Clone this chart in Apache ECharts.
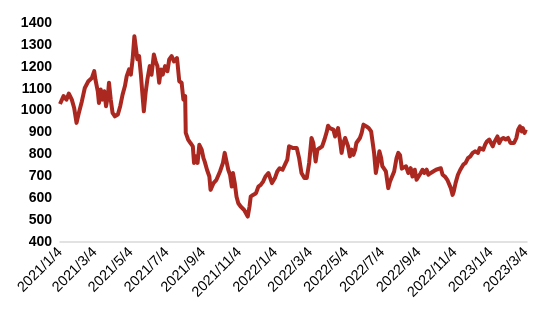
<!DOCTYPE html>
<html>
<head>
<meta charset="utf-8">
<script src="https://cdn.jsdelivr.net/npm/echarts@6/dist/echarts.min.js"></script>
<style>
html,body{margin:0;padding:0;background:#fff;}
#chart{width:550px;height:329px;}
</style>
</head>
<body>
<div id="chart"></div>
<script>
// Tick labels on the x axis
const tickLabels = ['2021/1/4','2021/3/4','2021/5/4','2021/7/4','2021/9/4','2021/11/4','2022/1/4','2022/3/4','2022/5/4','2022/7/4','2022/9/4','2022/11/4','2023/1/4','2023/3/4'];
const yTicks = [400,500,600,700,800,900,1000,1100,1200,1300,1400];

// Series dates and values
const dates = [
'2021/1/4','2021/1/6','2021/1/10','2021/1/15','2021/1/19','2021/1/24','2021/1/28','2021/2/1','2021/2/5','2021/2/10','2021/2/15','2021/2/21','2021/2/27',
'2021/3/3','2021/3/5','2021/3/9','2021/3/11','2021/3/14','2021/3/17','2021/3/20','2021/3/23','2021/3/26','2021/3/28','2021/3/31',
'2021/4/3','2021/4/7','2021/4/12','2021/4/16','2021/4/20','2021/4/24','2021/4/27',
'2021/5/1','2021/5/4','2021/5/7','2021/5/10','2021/5/12','2021/5/15','2021/5/18','2021/5/21','2021/5/23','2021/5/26','2021/5/29',
'2021/6/1','2021/6/5','2021/6/8','2021/6/12','2021/6/15','2021/6/18','2021/6/21','2021/6/24','2021/6/27',
'2021/7/1','2021/7/5','2021/7/8','2021/7/12','2021/7/16','2021/7/21','2021/7/22','2021/7/25','2021/7/29',
'2021/8/1','2021/8/4','2021/8/5','2021/8/9','2021/8/13','2021/8/17','2021/8/19','2021/8/22','2021/8/25','2021/8/28',
'2021/9/1','2021/9/4','2021/9/6','2021/9/10','2021/9/14','2021/9/16','2021/9/21','2021/9/26',
'2021/10/2','2021/10/7','2021/10/10','2021/10/13','2021/10/16','2021/10/19','2021/10/22','2021/10/24','2021/10/27','2021/10/30',
'2021/11/2','2021/11/6','2021/11/9','2021/11/12','2021/11/15','2021/11/18','2021/11/21','2021/11/23','2021/11/27',
'2021/12/2','2021/12/6','2021/12/10','2021/12/14','2021/12/18','2021/12/23','2021/12/26','2021/12/29',
'2022/1/3','2022/1/7','2022/1/11','2022/1/16','2022/1/20','2022/1/24','2022/1/27',
'2022/2/3','2022/2/9','2022/2/13','2022/2/17','2022/2/22','2022/2/26',
'2022/3/2','2022/3/6','2022/3/9','2022/3/13','2022/3/16','2022/3/20','2022/3/24','2022/3/28',
'2022/4/1','2022/4/3','2022/4/6','2022/4/9','2022/4/12','2022/4/15','2022/4/18','2022/4/20','2022/4/23','2022/4/26','2022/4/29',
'2022/5/2','2022/5/4','2022/5/7','2022/5/10','2022/5/13','2022/5/16','2022/5/19','2022/5/21','2022/5/24','2022/5/27','2022/5/30',
'2022/6/2','2022/6/4','2022/6/7','2022/6/11','2022/6/15','2022/6/17','2022/6/20','2022/6/23','2022/6/26','2022/6/29',
'2022/7/2','2022/7/4','2022/7/7','2022/7/10','2022/7/14','2022/7/17','2022/7/20','2022/7/24','2022/7/28','2022/7/31',
'2022/8/3','2022/8/6','2022/8/9','2022/8/13','2022/8/17','2022/8/21','2022/8/24','2022/8/28','2022/8/31',
'2022/9/3','2022/9/7','2022/9/10','2022/9/13','2022/9/17','2022/9/20','2022/9/24','2022/9/28',
'2022/10/3','2022/10/6','2022/10/11','2022/10/14','2022/10/18','2022/10/22','2022/10/25','2022/10/28','2022/10/31',
'2022/11/2','2022/11/5','2022/11/9','2022/11/13','2022/11/18','2022/11/22','2022/11/26','2022/11/30',
'2022/12/4','2022/12/8','2022/12/10','2022/12/13','2022/12/16','2022/12/19','2022/12/22','2022/12/25','2022/12/28',
'2023/1/1','2023/1/4','2023/1/7','2023/1/9','2023/1/12','2023/1/15','2023/1/18','2023/1/21','2023/1/25','2023/1/29',
'2023/2/2','2023/2/6','2023/2/9','2023/2/12','2023/2/16','2023/2/19','2023/2/22','2023/2/25','2023/2/27',
'2023/3/2','2023/3/4'
];
const values = [
1030,1027,1066,1050,1078,1050,1012,944,990,1042,1103,1134,1149,
1180,1142,1088,1035,1096,1050,1088,1020,1066,1127,1050,
990,974,982,1020,1073,1112,1157,
1188,1164,1234,1340,1347,1234,1249,1164,1096,997,1081,
1142,1203,1164,1256,1225,1203,1127,1188,1164,
1203,1180,1234,1249,1225,1240,1218,1134,1127,
1050,1066,898,868,852,837,761,791,761,844,
822,783,768,730,699,638,669,684,
722,761,807,768,730,707,653,715,669,607,
577,562,570,546,538,516,562,607,615,
623,653,661,676,699,715,692,669,
692,722,737,730,753,776,837,
829,829,783,715,692,692,
761,875,852,768,822,829,837,868,
905,931,920,928,913,882,905,920,868,807,852,
875,868,837,791,822,798,822,852,859,875,898,
936,944,928,920,905,898,807,715,761,814,
783,746,753,722,646,676,684,722,783,807,
796,735,730,746,715,737,699,730,684,
676,715,730,715,730,707,715,722,
730,733,737,707,699,684,676,646,615,
631,669,707,730,753,761,783,791,
807,814,822,807,829,837,822,844,859,
868,852,837,852,859,882,852,868,875,868,
875,852,844,852,875,913,928,905,920,
898,913
];

function toTime(s){ const p = s.split('/').map(Number); return Date.UTC(p[0], p[1]-1, p[2]); }

const seriesData = dates.map((d,i)=>[toTime(d), values[i]]);
const labelTimes = tickLabels.map(toTime);

const chart = echarts.init(document.getElementById('chart'));
chart.setOption({
  animation:false,
  backgroundColor:'#ffffff',
  grid:{left:60, right:23, top:23, bottom:87, containLabel:false},
  xAxis:{
    type:'value',
    scale:true,
    min: toTime('2021/1/4'),
    max: toTime('2023/3/6'),
    axisLine:{show:true, lineStyle:{color:'#d9d9d9', width:1.5}},
    axisTick:{show:false},
    splitLine:{show:false},
    axisLabel:{
      customValues: labelTimes,
      rotate:45,
      margin:8,
      hideOverlap:false,
      showMinLabel:true,
      showMaxLabel:true,
      color:'#000',
      fontFamily:'Liberation Sans, Arial, sans-serif',
      fontSize:14.5,
      formatter:function(v){ const d=new Date(v); return d.getUTCFullYear()+'/'+(d.getUTCMonth()+1)+'/'+d.getUTCDate(); }
    }
  },
  yAxis:{
    type:'value',
    min:400, max:1400, interval:100,
    axisLine:{show:false},
    axisTick:{show:false},
    splitLine:{show:false},
    axisLabel:{
      margin:8,
      color:'#000',
      fontFamily:'Liberation Sans, Arial, sans-serif',
      fontSize:14,
      fontWeight:'bold',
      formatter:function(v){ return String(v); }
    }
  },
  series:[{
    type:'line',
    data: seriesData,
    showSymbol:false,
    symbol:'none',
    lineStyle:{color:'#ab2820', width:4, join:'round'},
    itemStyle:{color:'#ab2820'}
  }]
});
</script>
</body>
</html>
